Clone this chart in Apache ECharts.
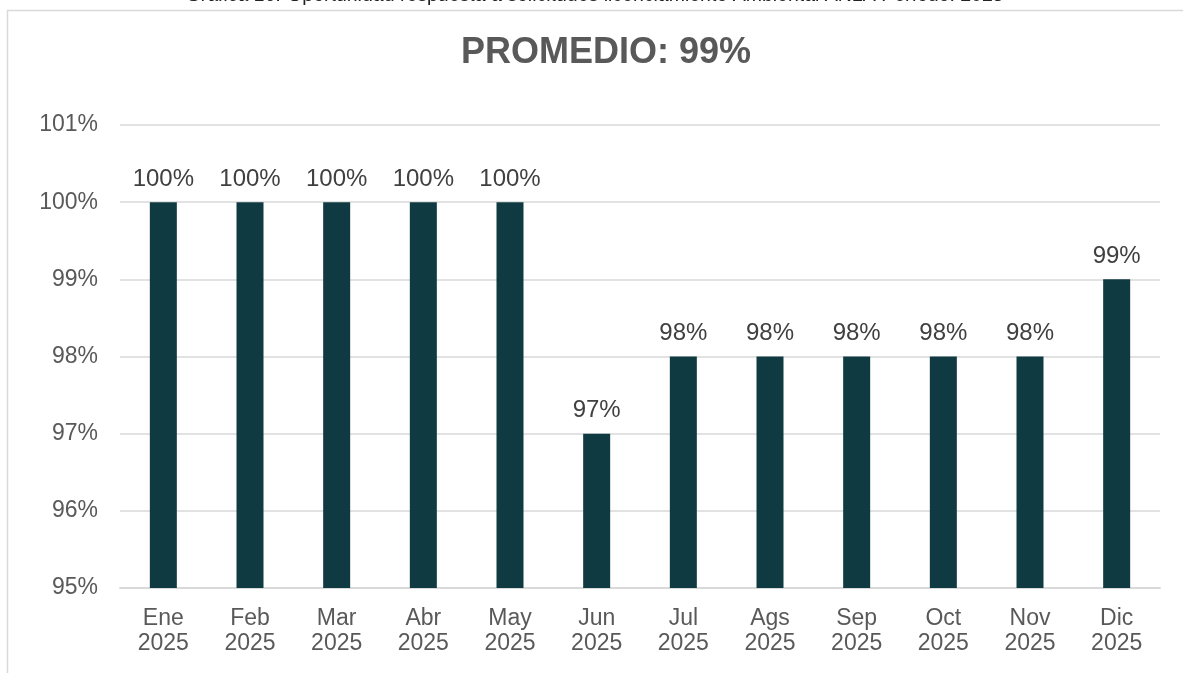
<!DOCTYPE html>
<html><head><meta charset="utf-8">
<script src="https://cdn.jsdelivr.net/npm/echarts@6/dist/echarts.min.js"></script>
<style>html,body{margin:0;padding:0;background:#fff}#c{width:1183px;height:673px}</style>
</head><body><div id="c"></div>
<script>
const categories = ['Ene\n2025','Feb\n2025','Mar\n2025','Abr\n2025','May\n2025','Jun\n2025','Jul\n2025','Ags\n2025','Sep\n2025','Oct\n2025','Nov\n2025','Dic\n2025'];
const values = [100,100,100,100,100,97,98,98,98,98,98,99];
const titleText = 'PROMEDIO: 99%';
const chart = echarts.init(document.getElementById('c'));
chart.setOption({
  animation:false,
  title:{text:titleText,left:601,top:30,textAlign:'center',textStyle:{fontFamily:'Liberation Sans',fontSize:36,fontWeight:'bold',color:'#595959'}},
  graphic:[
    {type:'rect',shape:{x:7.5,y:10.5,width:1200,height:700},style:{fill:'none',stroke:'#d9d9d9',lineWidth:1.5},z:-1},
    {type:'text',x:595,y:-14,style:{text:'{i|Gráfica 10.} Oportunidad respuesta a solicitudes licenciamiento Ambiental ANLA Período: 2025',align:'center',rich:{i:{fontStyle:'italic',fontFamily:'Liberation Sans',fontSize:19.5,fill:'#222'}},font:'19.5px Liberation Sans',fill:'#222'}}
  ],
  grid:{left:120,right:23,top:125,bottom:85},
  xAxis:{type:'category',data:categories,axisTick:{show:false},axisLine:{lineStyle:{color:'#d9d9d9',width:2}},
    axisLabel:{color:'#595959',fontFamily:'Liberation Sans',fontSize:23,lineHeight:25,margin:18}},
  yAxis:{type:'value',min:95,max:101,interval:1,axisLabel:{formatter:'{value}%',color:'#595959',fontFamily:'Liberation Sans',fontSize:23,margin:22},
    splitLine:{lineStyle:{color:'#d9d9d9',width:1.5}},axisLine:{show:false},axisTick:{show:false}},
  series:[{type:'bar',data:values,barWidth:27,itemStyle:{color:'#0f3a41'},
    label:{show:true,position:'top',formatter:'{c}%',distance:11,color:'#404040',fontFamily:'Liberation Sans',fontSize:24}}]
});
</script></body></html>
